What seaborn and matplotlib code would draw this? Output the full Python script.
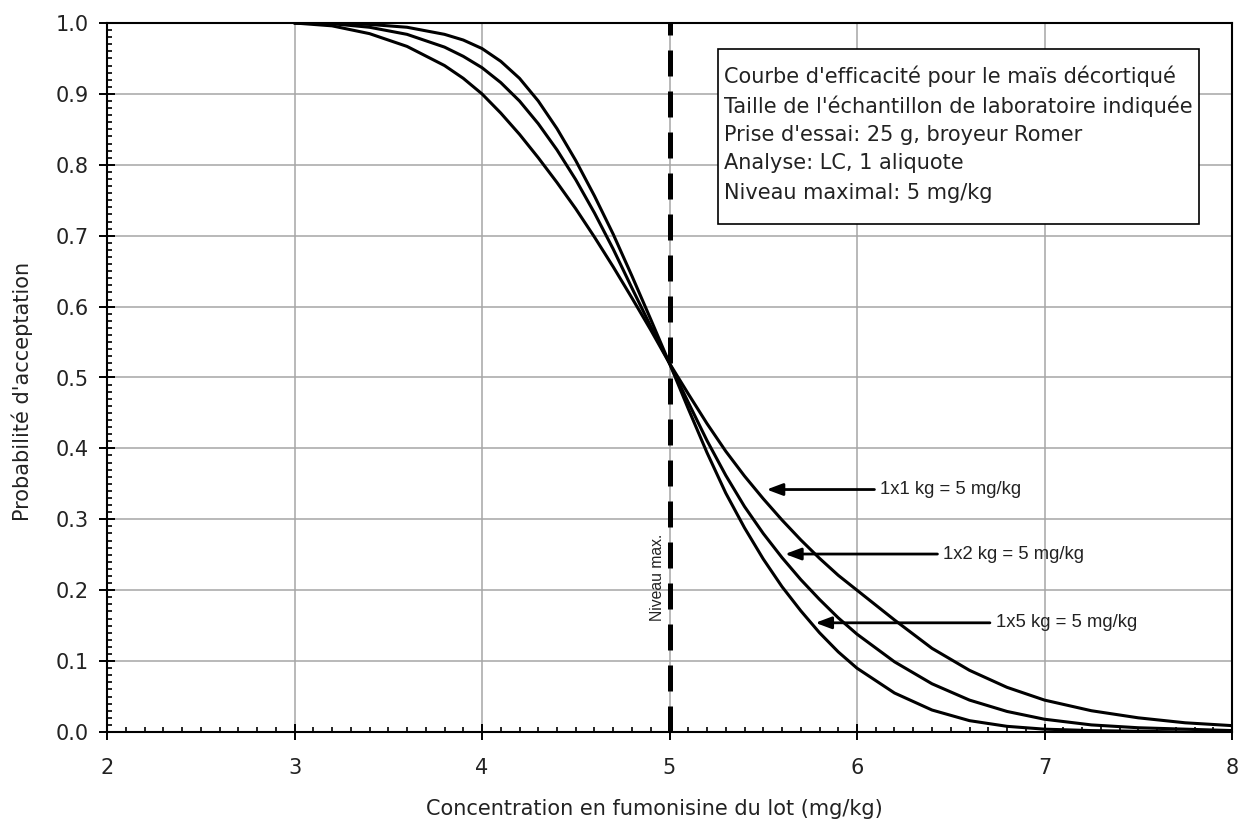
import numpy as np
import pandas as pd
import matplotlib
matplotlib.use("Agg")
import matplotlib.pyplot as plt
from matplotlib.ticker import MultipleLocator, FormatStrFormatter
from matplotlib.patches import Rectangle
import seaborn as sns

# ---- data ----
conc = [3.0, 3.2, 3.4, 3.6, 3.8, 3.9, 4.0, 4.1, 4.2, 4.3, 4.4, 4.5, 4.6, 4.7, 4.8, 4.9,
        5.0, 5.1, 5.2, 5.3, 5.4, 5.5, 5.6, 5.7, 5.8, 5.9, 6.0, 6.2, 6.4, 6.6, 6.8,
        7.0, 7.25, 7.5, 7.75, 8.0]
p_1x1 = [1.000, 0.996, 0.985, 0.967, 0.940, 0.922, 0.900, 0.873, 0.843, 0.810, 0.775,
         0.738, 0.698, 0.656, 0.612, 0.567, 0.520, 0.477, 0.435, 0.396, 0.361, 0.329,
         0.299, 0.271, 0.245, 0.221, 0.200, 0.158, 0.118, 0.087, 0.063, 0.045, 0.030,
         0.020, 0.013, 0.009]
p_1x2 = [1.000, 0.999, 0.994, 0.984, 0.966, 0.953, 0.937, 0.916, 0.890, 0.858, 0.821,
         0.779, 0.732, 0.681, 0.626, 0.572, 0.520, 0.465, 0.411, 0.362, 0.318, 0.280,
         0.246, 0.215, 0.187, 0.161, 0.138, 0.099, 0.068, 0.045, 0.029, 0.018, 0.010,
         0.006, 0.004, 0.002]
p_1x5 = [1.000, 1.000, 0.998, 0.994, 0.984, 0.976, 0.964, 0.946, 0.922, 0.890, 0.851,
         0.806, 0.756, 0.702, 0.643, 0.582, 0.520, 0.456, 0.394, 0.337, 0.288, 0.244,
         0.205, 0.171, 0.140, 0.113, 0.090, 0.055, 0.031, 0.016, 0.008, 0.004, 0.002,
         0.001, 0.000, 0.000]
series_names = ["1x1 kg = 5 mg/kg", "1x2 kg = 5 mg/kg", "1x5 kg = 5 mg/kg"]
max_level = 5.0
x_ticks = [2, 3, 4, 5, 6, 7, 8]
y_ticks = [0.0, 0.1, 0.2, 0.3, 0.4, 0.5, 0.6, 0.7, 0.8, 0.9, 1.0]
info_lines = ["Courbe d'efficacité pour le maïs décortiqué",
              "Taille de l'échantillon de laboratoire indiquée",
              "Prise d'essai: 25 g, broyeur Romer",
              "Analyse: LC, 1 aliquote",
              "Niveau maximal: 5 mg/kg"]
x_label = "Concentration en fumonisine du lot (mg/kg)"
y_label = "Probabilité d'acceptation"
max_label = "Niveau max."

df = pd.DataFrame({
    "conc": conc * 3,
    "prob": p_1x1 + p_1x2 + p_1x5,
    "series": sum([[s] * len(conc) for s in series_names], []),
})

sns.set_theme(style="white")
plt.rcParams["font.family"] = ["DejaVu Sans"]
narrow = ["Liberation Sans", "DejaVu Sans"]
txt_col = "#222222"

fig = plt.figure(figsize=(12.43, 8.30), dpi=100)
ax = fig.add_axes([107 / 1243, 1 - 732 / 830, 1125 / 1243, 709 / 830])

sns.lineplot(data=df, x="conc", y="prob", hue="series", palette=["black"] * 3,
             linewidth=2.2, legend=False, ax=ax, sort=False)

ax.axvline(max_level, color="black", linewidth=3.6, dashes=(5.2, 3.0), zorder=3)

ax.set_xlim(x_ticks[0], x_ticks[-1])
ax.set_ylim(y_ticks[0], y_ticks[-1])
ax.set_xticks(x_ticks)
ax.set_yticks(y_ticks)
ax.xaxis.set_minor_locator(MultipleLocator(0.1))
ax.yaxis.set_minor_locator(MultipleLocator(0.01))
ax.yaxis.set_major_formatter(FormatStrFormatter("%.1f"))
ax.grid(True, which="major", color="#a6a6a6", linewidth=1.1)
ax.set_axisbelow(True)

ax.tick_params(which="major", direction="inout", length=12, width=1.4, color="black",
               labelsize=15, labelcolor=txt_col)
ax.tick_params(axis="y", which="major", pad=7)
ax.tick_params(axis="x", which="major", pad=13)
ax.tick_params(which="minor", direction="in", length=3.5, width=1.2, color="black")
ax.tick_params(bottom=True, left=True, top=False, right=False, which="both")

for sp in ax.spines.values():
    sp.set_color("black")
    sp.set_linewidth(1.5)

ax.set_xlabel(x_label, fontsize=15, color=txt_col)
ax.set_ylabel(y_label, fontsize=15, color=txt_col)
ax.xaxis.set_label_coords(0.487, -0.094)
ax.yaxis.set_label_coords(-0.066, 0.48)

# info box
ax.add_patch(Rectangle((0.5431, 0.7165), 0.9707 - 0.5431, 0.9633 - 0.7165,
                       transform=ax.transAxes, facecolor="white", edgecolor="black",
                       linewidth=1.2, zorder=5))
line_y = [0.9243, 0.8829, 0.8420, 0.8025, 0.7602]
for txt, yy in zip(info_lines, line_y):
    ax.text(0.548, yy, txt, transform=ax.transAxes, fontsize=15, color=txt_col,
            ha="left", va="center", zorder=6)

# "Niveau max." label
ax.text(4.935, 0.218, max_label, rotation=90, fontsize=11.3, color=txt_col,
        ha="center", va="center", family=narrow)

# arrows with labels
tips = [(5.518, 0.342), (5.616, 0.251), (5.778, 0.154)]
tails = [6.093, 6.429, 6.709]
for name, (tx, ty), tail in zip(series_names, tips, tails):
    ax.annotate("", xy=(tx, ty), xytext=(tail, ty),
                arrowprops=dict(arrowstyle="-|>,head_length=0.8,head_width=0.3",
                                color="black", lw=2.0, shrinkA=0, shrinkB=0))
    ax.text(tail + 0.03, ty, name, fontsize=13.3, color=txt_col,
            ha="left", va="center", family=narrow)

fig.savefig("out.png", dpi=100, facecolor="white")
